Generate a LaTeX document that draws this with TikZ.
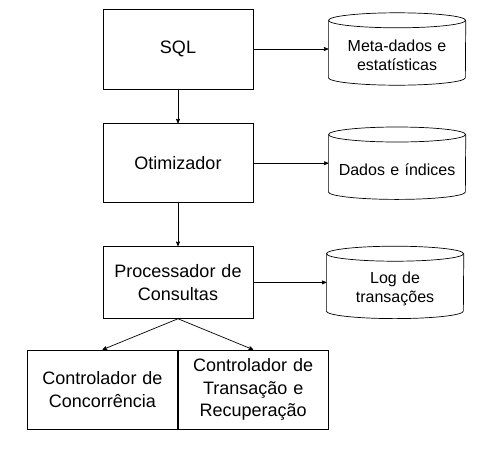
\documentclass[tikz,border=0pt]{standalone}
\usepackage{fontspec}
\setmainfont{Liberation Sans}
\usetikzlibrary{arrows,positioning,shapes}
\tikzset{
    %Define standard arrow tip
    >=stealth',
    %Define style for boxes
    box/.style={
           rectangle,
           draw=black, line width=0.7pt,
           text width=144pt,
           minimum width=150pt,
           minimum height=79pt,
           inner sep=0pt,
           align=center,
           font=\fontsize{18}{22.5}\selectfont},
    % Define style for the stores (cylinder drawn afterwards)
    store/.style={
           rectangle,
           text width=130pt,
           text height=25pt,
           minimum width=137pt,
           minimum height=72pt,
           inner sep=0pt,
           align=center,
           font=\fontsize{16}{19}\selectfont},
    % Define arrow style
    arr/.style={
           ->,
           line width=0.7pt}
}
\begin{document}
\begin{tikzpicture}
  \useasboundingbox (0,0) rectangle (501pt,-456pt);
  \node[box, minimum height=80pt] (sql) at (178pt,-49pt) {SQL};
  \node[store, right=75pt of sql] (meta) {Meta-dados e\\estatísticas};
  \node[box, below=34pt of sql] (otim) {Otimizador};
  \node[store, right=75pt of otim] (dados) {Dados e índices};
  \node[box, minimum height=72pt, below=43pt of otim] (proc) {Processador de\\Consultas};
  \node[store, right=73pt of proc] (log) {Log de\\transações};
  \node[box] (conc) at (102.5pt,-389.5pt) {Controlador de\\Concorrência};
  \node[box, right=0pt of conc] (trans) {Controlador de\\Transação e\\Recuperação};
  % cylinders round the stores
  \foreach \n in {meta,dados,log} {
    \draw[line width=0.7pt] ([yshift=-7.5pt]\n.north) ellipse [x radius=68.5pt, y radius=7.5pt];
    \draw[line width=0.7pt] ([yshift=-7.5pt]\n.north west) -- ([yshift=7.5pt]\n.south west)
      arc [start angle=180, end angle=360, x radius=68.5pt, y radius=7.5pt]
      -- ([yshift=-7.5pt]\n.north east);
  }
  \draw[arr] (sql) -- (meta);
  \draw[arr] (sql) -- (otim);
  \draw[arr] (otim) -- (dados);
  \draw[arr] (otim) -- (proc);
  \draw[arr] (proc) -- (log);
  \draw[arr] (proc.south) -- (conc.north);
  \draw[arr] (proc.south) -- (trans.north);
\end{tikzpicture}
\end{document}
